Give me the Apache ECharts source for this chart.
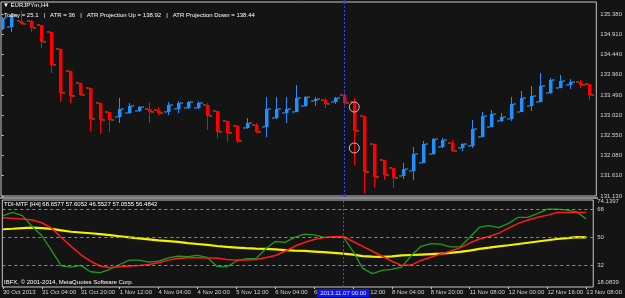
<!DOCTYPE html>
<html><head><meta charset="utf-8">
<script src="https://cdn.jsdelivr.net/npm/echarts@6/dist/echarts.min.js"></script>
<style>html,body{margin:0;padding:0;background:#141414;}#c{width:625px;height:298px;}</style>
</head><body><div id="c"></div>
<script>
const opens = [135.030,135.077,135.217,135.217,135.123,134.960,134.563,134.049,133.769,133.652,133.302,133.092,132.975,133.068,133.115,133.162,133.138,133.092,133.162,133.185,133.185,133.255,133.115,132.881,132.765,132.718,132.788,132.741,132.951,133.068,133.092,133.232,133.348,133.372,133.325,133.489,133.325,132.998,132.344,131.971,131.784,131.597,131.714,131.901,132.111,132.274,132.368,132.251,132.298,132.508,132.741,132.881,132.928,133.092,133.232,133.325,133.535,133.652,133.722,133.792,133.745];
const closes = [135.287,135.357,135.147,135.053,134.726,134.189,133.535,133.465,133.489,132.928,132.905,132.905,133.162,133.232,133.208,133.092,133.068,133.255,133.302,133.325,133.302,132.998,132.625,132.601,132.414,132.835,132.625,133.162,133.162,133.162,133.419,133.442,133.395,133.278,133.419,133.302,132.648,131.690,131.574,131.620,131.550,131.761,132.111,132.344,132.461,132.438,132.181,132.344,132.695,132.998,133.045,132.975,133.278,133.419,133.465,133.699,133.839,133.816,133.792,133.722,133.489];
const lows = [135.006,134.960,135.123,134.960,134.586,134.002,133.325,133.302,133.465,132.648,132.578,132.625,132.835,133.045,133.092,132.835,133.022,133.022,133.068,133.162,133.162,132.671,132.484,132.391,132.368,132.695,132.601,132.508,132.928,132.835,133.085,133.208,133.232,133.185,133.278,133.255,131.854,131.200,131.340,131.504,131.317,131.527,131.504,131.895,132.087,132.251,132.157,132.181,132.251,132.500,132.735,132.858,132.881,133.085,133.115,133.320,133.512,133.645,133.629,133.652,133.372];
const highs = [135.310,135.403,135.450,135.240,135.130,134.970,134.570,134.055,133.775,133.660,133.310,133.100,133.419,133.302,133.232,133.325,133.208,133.325,133.348,133.348,133.348,133.302,133.120,132.890,132.788,132.951,132.835,133.442,133.442,133.442,133.722,133.465,133.442,133.419,133.442,133.535,133.419,133.005,132.350,131.980,131.790,131.901,132.274,132.414,132.484,132.484,132.438,132.368,132.905,133.092,133.138,133.068,133.442,133.582,133.699,134.002,133.886,133.956,133.862,133.839,133.750];

const tdiGreen = [64.0,66.1,64.1,57.1,51.1,41.5,31.7,30.9,32.0,27.9,27.4,29.5,32.6,35.4,35.4,34.1,34.7,36.9,37.9,37.7,38.5,37.1,31.4,31.0,34.7,36.3,36.3,42.5,47.4,46.8,50.1,52.2,51.7,50.0,50.1,50.2,41.1,30.1,26.7,28.8,29.5,30.9,38.4,44.3,46.0,45.7,43.9,43.9,50.0,56.6,57.6,56.3,59.1,63.0,63.0,65.5,68.2,68.2,67.6,66.5,61.9];
const tdiRed = [62.7,62.3,61.9,61.2,59.5,56.0,50.0,44.3,39.0,34.7,31.6,30.5,31.2,31.6,32.0,32.6,33.7,35.4,36.5,36.9,36.9,36.8,36.8,35.8,35.4,35.4,35.8,36.9,38.4,41.1,44.3,46.8,48.7,49.9,50.4,50.6,47.4,44.3,41.1,37.9,34.7,32.0,32.2,35.2,37.3,39.4,41.1,43.3,46.4,49.0,50.6,52.8,56.0,59.1,61.2,63.0,64.4,66.1,66.1,66.1,66.1];
const tdiYellow = [55.3,55.6,56.0,56.3,56.0,55.5,54.6,53.7,53.2,52.7,52.2,51.5,50.8,50.0,49.4,48.8,48.1,47.7,47.1,46.4,45.8,45.2,44.5,43.9,43.5,43.1,42.8,42.7,42.3,41.9,41.5,41.3,40.9,40.5,40.1,39.6,38.9,38.0,37.7,37.5,37.8,38.4,38.7,39.0,39.3,39.6,40.1,40.7,41.5,42.6,43.4,44.3,45.0,45.8,46.6,47.4,48.2,49.0,49.6,50.2,50.0];

const timeLabelIdx = [0,4,8,12,16,20,24,28,32,36,40,44,48,52,56,60];
const timeLabels = ['30 Oct 2013','31 Oct 04:00','31 Oct 20:00','1 Nov 12:00','4 Nov 04:00','4 Nov 20:00','5 Nov 12:00','6 Nov 04:00','6 Nov 20:00','7 Nov 12:00','8 Nov 04:00','8 Nov 20:00','11 Nov 08:00','12 Nov 00:00','12 Nov 16:00','13 Nov 08:00'];
const priceTicks = [135.380,134.910,134.440,133.960,133.490,133.020,132.550,132.080,131.610,131.130];
const tdiTicks = [18.0839,32,50,68,74.1397];
const tdiLevels = [32,50,68];
const cursorIdx = 35;
const cursorLabel = '2013.11.07 00:00';
const signalIdx = [36,36];
const signalPrice = [133.208,132.251];

const FONT = 'Liberation Sans';
const TXT = '#d4d4d4';
const XMIN = -0.07, XMAX = 60.71;

const candleData = opens.map((o,i)=>[i,o,closes[i],lows[i],highs[i]]);

function renderCandle(params, api){
  const i=api.value(0), o=api.value(1), c=api.value(2), l=api.value(3), h=api.value(4);
  const bull = c>=o;
  const col = bull ? '#1e90ff' : '#ff0000';
  const tcol = bull ? '#3aa2ff' : '#ff5a14';
  const pO=api.coord([i,o]), pC=api.coord([i,c]), pL=api.coord([i,l]), pH=api.coord([i,h]);
  const x = Math.round(pO[0])+0.5;
  const top=Math.min(pO[1],pC[1]), bot=Math.max(pO[1],pC[1]);
  return {type:'group', children:[
    {type:'line', shape:{x1:x,y1:pH[1],x2:x,y2:pL[1]}, style:{stroke:col,lineWidth:1}},
    {type:'rect', shape:{x:x-1.5,y:top,width:3.5,height:Math.max(1.2,bot-top)}, style:{fill:col}},
    {type:'line', shape:{x1:x-4.5,y1:pO[1],x2:x-1.5,y2:pO[1]}, style:{stroke:tcol,lineWidth:1}},
    {type:'line', shape:{x1:x+1.5,y1:pC[1],x2:x+4.5,y2:pC[1]}, style:{stroke:tcol,lineWidth:1}}
  ]};
}

const chart = echarts.init(document.getElementById('c'), null, {renderer:'canvas'});
const tstyle = {color:TXT, fontSize:6, fontWeight:'normal', fontFamily:FONT};
chart.setOption({
  animation:false,
  backgroundColor:'#141414',
  textStyle:{fontFamily:FONT},
  title:[
    {text:'\u25BC EURJPYm,H4', left:3, top:2, padding:0, textStyle:Object.assign({},tstyle,{color:'#ffffff'})},
    {text:'Today = 25.1   |   ATR = 36   |   ATR Projection Up = 138.92   |   ATR Projection Down = 138.44', left:4, top:12, padding:0, textStyle:Object.assign({},tstyle,{color:'#ffffff'})},
    {text:'TDI-MTF [H4] 68.6577 57.6052 46.5527 57.0555 56.4842', left:4, top:201, padding:0, textStyle:Object.assign({},tstyle,{color:'#ffffff'})},
    {text:'IBFX, \u00A9 2001-2014, MetaQuotes Software Corp.', left:4, top:279, padding:0, textStyle:Object.assign({},tstyle,{color:'#ffffff'})}
  ],
  graphic:[
    {type:'rect', left:0, top:197, shape:{width:598, height:2}, style:{fill:'#8a8a8a'}, z:10}
  ],
  grid:[
    {left:1, top:2, width:596, height:194, show:true, borderColor:'#c8c8c8', borderWidth:1, backgroundColor:'#141414'},
    {left:1, top:200, width:596, height:87, show:true, borderColor:'#c8c8c8', borderWidth:1, backgroundColor:'#141414'}
  ],
  xAxis:[
    {type:'value', gridIndex:0, min:XMIN, max:XMAX, show:false},
    {type:'value', gridIndex:1, min:XMIN, max:XMAX,
      axisLine:{show:false}, splitLine:{show:false},
      axisTick:{show:true, customValues:timeLabelIdx, length:2, lineStyle:{color:'#c8c8c8'}},
      axisLabel:{customValues:timeLabelIdx, formatter:v=>timeLabels[timeLabelIdx.indexOf(Math.round(v))], align:'left', margin:2, color:TXT, fontSize:6, fontFamily:FONT}
    }
  ],
  yAxis:[
    {type:'value', gridIndex:0, position:'right', min:131.13, max:135.660, scale:true,
      axisLine:{show:false}, splitLine:{show:false},
      axisTick:{show:true, customValues:priceTicks, length:2, lineStyle:{color:'#c8c8c8'}},
      axisLabel:{customValues:priceTicks, formatter:v=>v.toFixed(3), margin:4, color:TXT, fontSize:6, fontFamily:FONT}
    },
    {type:'value', gridIndex:1, position:'right', min:18.0839, max:74.1397,
      axisLine:{show:false}, splitLine:{show:false}, axisTick:{show:false},
      axisLabel:{customValues:tdiTicks, margin:4, color:TXT, fontSize:6, fontFamily:FONT,
        formatter:v=>{ if(Math.abs(v-tdiTicks[0])<1e-6) return '{lo|'+v+'}'; if(Math.abs(v-tdiTicks[4])<1e-6) return '{hi|'+v+'}'; return String(v); },
        rich:{lo:{padding:[0,0,9,0], color:TXT, fontSize:6, fontFamily:FONT}, hi:{padding:[3,0,0,0], color:TXT, fontSize:6, fontFamily:FONT}}
      }
    }
  ],
  series:[
    {type:'custom', xAxisIndex:0, yAxisIndex:0, renderItem:renderCandle, data:candleData, encode:{x:0,y:[1,2,3,4]}, clip:true, z:3},
    {type:'scatter', xAxisIndex:0, yAxisIndex:0, data:signalIdx.map((x,k)=>[x,signalPrice[k]]),
      symbol:'circle', symbolSize:10, itemStyle:{color:'rgba(0,0,0,0)', borderColor:'#e8e8e8', borderWidth:1}, z:5,
      markLine:{silent:true, symbol:['rect','rect'], symbolSize:3, label:{show:false},
        lineStyle:{color:'#2a4bff', type:[2,2], width:1}, data:[{xAxis:cursorIdx}]}
    },
    {type:'line', xAxisIndex:1, yAxisIndex:1, data:tdiYellow.map((v,i)=>[i,v]), showSymbol:false,
      lineStyle:{color:'#f2f200', width:2.2}, z:2,
      markLine:{silent:true, symbol:'none', label:{show:false}, lineStyle:{color:'#8c8c8c', type:[3,3], width:1},
        data:tdiLevels.map(v=>({yAxis:v}))}
    },
    {type:'line', xAxisIndex:1, yAxisIndex:1, data:tdiGreen.map((v,i)=>[i,v]), showSymbol:false,
      lineStyle:{color:'#1f9a1f', width:1.3}, z:3,
      markLine:{silent:true, symbol:'none', lineStyle:{color:'#2a4bff', type:[2,2], width:1},
        label:{show:true, position:'start', distance:2, formatter:cursorLabel, color:'#d8e4ff', backgroundColor:'#1414f0', padding:[1,3,1,3], fontSize:6, fontFamily:FONT},
        data:[{xAxis:cursorIdx}]}
    },
    {type:'line', xAxisIndex:1, yAxisIndex:1, data:tdiRed.map((v,i)=>[i,v]), showSymbol:false,
      lineStyle:{color:'#ff1a1a', width:1.5}, z:4}
  ]
});
</script></body></html>
